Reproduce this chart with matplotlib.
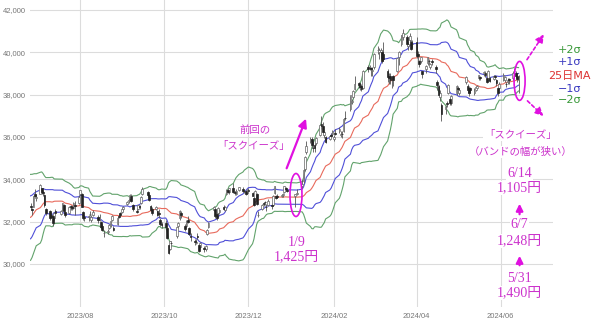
import numpy as np
import pandas as pd
import matplotlib
matplotlib.use('Agg')
import matplotlib.pyplot as plt
import matplotlib.dates as mdates
from matplotlib.patches import Ellipse

# Nikkei 225 daily prices (yen)
# closes before the chart window, only used to start the 25-day band
warmup_close = [31086, 30957, 30682, 30801, 30916, 31233, 31328, 30888,
                31148, 31524, 32217, 32506, 31913, 31641, 32265, 32434, 33018,
                33502, 33485, 33706, 33370, 33388, 33575, 33265, 32781]

opens = [
    32750, 32600, 32700, 33300, 33100,  # 2023/06
    33300, 33600, 33400, 33250, 32600, 32500, 32300, 32250, 32150, 32500,
    32350, 32550, 32800, 32450, 32400, 32750, 32700, 32650, 32800, 32900,  # 07
    33300, 33300, 32450, 32200, 32200, 32350, 32100, 32300, 32200, 32100, 32000,
    31800, 31450, 31500, 31700, 31800, 32100, 31700, 31900, 32250, 32400, 32450,  # 08
    32600, 32850, 33000, 33050, 33200, 32800, 32500, 32600, 32750, 32900,
    33300, 33400, 33250, 32750, 32600, 32600, 32500, 32400, 32100, 31900,  # 09
    31950, 31700, 30900, 30700, 31000, 31300, 31800, 32150, 32400, 31800, 31800,
    32100, 31700, 31300, 31100, 31000, 31300, 30900, 30800, 30750, 30700,  # 10
    31400, 31750, 32550, 32600, 32350, 32400, 32450, 32700, 32550, 33300,
    33500, 33400, 33600, 33400, 33300, 33500, 33550, 33400, 33450, 33350,  # 11
    33500, 33350, 33100, 33000, 33300, 32300, 32600, 32850, 32950, 32700, 32800,
    32800, 32800, 33350, 33200, 33200, 33200, 33250, 33400, 33600, 33500,  # 12
    33200, 33300, 33700, 33900, 34500, 35300, 35800, 35900, 35500, 35600,
    35700, 36100, 36600, 36500, 36100, 36000, 35900, 36100, 36150,  # 2024/01
    35900, 36200, 36300, 36100, 36150, 36300, 36900, 37300, 37650, 37900,
    38250, 38550, 38400, 38400, 38300, 39300, 39250, 39250, 39100,  # 02
    39300, 40100, 40000, 40000, 40000, 39900, 39100, 38900, 38900, 38800,
    38900, 39100, 39800, 40400, 40700, 40700, 40300, 40600, 40500, 40400,  # 03
    40500, 39900, 39600, 39600, 39100, 39200, 39500, 39600, 39300, 39600, 39300,
    38600, 38400, 37900, 37500, 37300, 37600, 38100, 37800, 37600, 38100,  # 04
    38300, 38100, 38600, 38400, 38300, 38300, 38100, 38200, 38300, 38800, 38850,
    39000, 39000, 38800, 38700, 38800, 38750, 38900, 38700, 38300, 38300,  # 05
    38700, 38700, 38500, 38600, 38750, 38800, 39100, 39000, 38900, 38700,  # 06
]
highs = [
    32900, 32650, 33200, 33527, 33300,
    33762, 33600, 33450, 33300, 32650, 32550, 32450, 32300, 32450, 32600,
    32550, 32900, 32850, 32500, 32750, 32800, 32750, 32950, 33000, 33250,
    33488, 33350, 32500, 32300, 32300, 32500, 32300, 32550, 32300, 32350, 32050,
    31900, 31600, 31650, 31900, 32050, 32300, 31800, 32200, 32350, 32450, 32700,
    32750, 33000, 33100, 33300, 33300, 32850, 32650, 32800, 32800, 33200,
    33634, 33450, 33300, 32800, 32700, 32750, 32550, 32600, 32150, 32000,
    32100, 31750, 30950, 31100, 31100, 31750, 32000, 32533, 32500, 31900, 32100,
    32250, 31750, 31450, 31200, 31200, 31450, 30950, 31050, 30850, 30900,
    31650, 32000, 32750, 32650, 32450, 32700, 32600, 32800, 32750, 33550,
    33600, 33600, 33850, 33450, 33550, 33650, 33650, 33500, 33500, 33550,
    33600, 33400, 33150, 33500, 33350, 32500, 32850, 32950, 33000, 32850, 33050,
    32900, 33250, 33700, 33250, 33300, 33300, 33350, 33700, 33650, 33550,
    33300, 33550, 33990, 34500, 35100, 35800, 36000, 36000, 35800, 35700,
    36000, 36600, 36985, 36700, 36300, 36050, 36100, 36200, 36350,
    36100, 36400, 36450, 36300, 36300, 36900, 37250, 37950, 37800, 38200,
    38865, 38600, 38500, 38500, 39150, 39400, 39400, 39300, 39300,
    39990, 40300, 40200, 40200, 40100, 40472, 39200, 39000, 39000, 38900,
    38950, 39750, 40050, 40823, 41087, 40800, 40500, 40900, 40600, 40600,
    40700, 40050, 39650, 39800, 39100, 39400, 39800, 39700, 39500, 39700, 39400,
    38700, 38450, 38200, 37600, 37500, 37700, 38500, 37900, 38000, 38450,
    38400, 38300, 38900, 38500, 38400, 38350, 38300, 38400, 38450, 38950, 38900,
    39100, 39100, 38850, 39150, 38850, 38950, 38950, 38750, 38350, 38600,
    39000, 38900, 38600, 38800, 38800, 39100, 39250, 39100, 39000, 38950,
]
lows = [
    32550, 32306, 32680, 33170, 33000,
    33290, 33300, 33200, 32700, 32300, 32100, 32150, 31800, 32100, 32300,
    32300, 32500, 32400, 32200, 32350, 32550, 32550, 32600, 32300, 32850,
    33200, 32700, 32100, 32050, 32050, 32250, 32000, 32250, 31950, 32050, 31700,
    31550, 31275, 31400, 31650, 31750, 32050, 31550, 31850, 32150, 32250, 32400,
    32500, 32800, 32900, 33000, 32950, 32500, 32400, 32550, 32600, 32850,
    33250, 33150, 33000, 32500, 32300, 32550, 32250, 32150, 31800, 31700,
    31700, 31200, 30487, 30650, 30800, 31250, 31700, 32100, 32150, 31550, 31750,
    31950, 31350, 31100, 30900, 30950, 31200, 30550, 30750, 30550, 30600,
    31350, 31700, 32500, 32150, 32100, 32350, 32350, 32550, 32500, 33250,
    33350, 33300, 33350, 33250, 33250, 33450, 33400, 33350, 33250, 33300,
    33350, 33200, 32750, 32950, 32800, 32200, 32550, 32750, 32800, 32500, 32750,
    32600, 32750, 33300, 33050, 33100, 33150, 33150, 33350, 33450, 33400,
    32700, 33250, 33600, 33850, 34400, 35200, 35700, 35500, 35300, 35300,
    35600, 36050, 36400, 36100, 35950, 35700, 35850, 35950, 36050,
    35800, 36100, 36200, 36000, 35950, 36250, 36800, 37250, 37550, 37850,
    38200, 38300, 38200, 38150, 38250, 39050, 39150, 38900, 38900,
    39200, 39900, 39700, 39700, 39500, 39600, 38600, 38500, 38500, 38300,
    38400, 39050, 39400, 40300, 40600, 40300, 40100, 40500, 40100, 40200,
    39750, 39600, 39300, 39500, 38800, 39000, 39400, 39400, 39200, 39400, 39000,
    38200, 37900, 37700, 36733, 37100, 37400, 38050, 37500, 37500, 38000,
    38100, 38000, 38500, 38100, 37950, 38100, 38000, 38150, 38250, 38700, 38700,
    38900, 38850, 38550, 38650, 38600, 38700, 38750, 38400, 37950, 38200,
    38650, 38600, 38350, 38500, 38500, 38700, 38950, 38800, 38600, 38100,
]
closes = [
    32698, 32538, 33193, 33234, 33189,
    33753, 33422, 33338, 32773, 32388, 32189, 32203, 31943, 32419, 32391,
    32493, 32896, 32490, 32304, 32700, 32682, 32668, 32891, 32759, 33172,
    33476, 32707, 32159, 32192, 32254, 32377, 32204, 32473, 32059, 32238, 31766,
    31626, 31450, 31565, 31856, 32010, 32287, 31624, 32169, 32227, 32333, 32619,
    32710, 32939, 33036, 33241, 32991, 32606, 32467, 32776, 32706, 33168,
    33533, 33242, 33023, 32571, 32402, 32678, 32315, 32371, 31872, 31857,
    31759, 31237, 30526, 31075, 30994, 31746, 31936, 32494, 32315, 31659, 32040,
    31998, 31430, 31259, 31019, 31062, 31269, 30601, 30991, 30696, 30858,
    31601, 31950, 32708, 32271, 32166, 32646, 32568, 32585, 32695, 33519,
    33424, 33585, 33388, 33354, 33451, 33625, 33447, 33408, 33321, 33486,
    33431, 33231, 32775, 33445, 32858, 32307, 32791, 32843, 32926, 32686, 32970,
    32758, 33219, 33675, 33141, 33169, 33255, 33305, 33681, 33540, 33464,
    33288, 33377, 33763, 34441, 35049, 35577, 35901, 35619, 35477, 35466,
    35963, 36546, 36517, 36226, 36236, 35751, 36026, 36065, 36286,
    36011, 36158, 36354, 36160, 36119, 36863, 36897, 37963, 37703, 38157,
    38487, 38470, 38363, 38262, 39098, 39233, 39239, 39208, 39166,
    39910, 40109, 40097, 40090, 39598, 39688, 38820, 38797, 38695, 38807,
    38707, 39740, 40003, 40815, 40888, 40414, 40398, 40762, 40168, 40369,
    39803, 39838, 39451, 39773, 38992, 39347, 39773, 39581, 39442, 39523, 39232,
    38471, 37961, 38079, 37068, 37438, 37552, 38460, 37628, 37934, 38405,
    38274, 38236, 38835, 38202, 38073, 38229, 38179, 38356, 38385, 38920, 38787,
    39069, 38946, 38617, 39103, 38646, 38900, 38855, 38556, 38054, 38487,
    38923, 38837, 38490, 38703, 38683, 39038, 39134, 38876, 38720, 38814,
]

# TSE holidays in the period
holidays = ['2023-07-17', '2023-08-11', '2023-09-18', '2023-10-09', '2023-11-03',
            '2023-11-23', '2024-01-01', '2024-01-02', '2024-01-03', '2024-01-08',
            '2024-02-12', '2024-02-23', '2024-03-20', '2024-04-29', '2024-05-03',
            '2024-05-06']
dates = pd.bdate_range('2023-05-22', '2024-06-14', freq='C', holidays=holidays)

all_close = pd.Series(warmup_close + closes, index=dates)
assert len(opens) == len(highs) == len(lows) == len(closes) == len(dates) - len(warmup_close)

ma = all_close.rolling(25).mean()
sd = all_close.rolling(25).std(ddof=0)

xt = mdates.date2num(dates)
n0 = len(warmup_close)
xc = xt[n0:]
o = np.array(opens, float)
h = np.array(highs, float)
l = np.array(lows, float)
c = np.array(closes, float)

fig = plt.figure(figsize=(6, 3.24), dpi=100)
ax = fig.add_axes([30 / 600, 1 - 307 / 324, 523 / 600, 307 / 324])

# bands
valid = slice(24, None)
ax.plot(xt[valid], (ma + 2 * sd).values[valid], color='#62a36c', lw=0.8, zorder=2)
ax.plot(xt[valid], (ma - 2 * sd).values[valid], color='#62a36c', lw=0.8, zorder=2)
ax.plot(xt[valid], (ma + sd).values[valid], color='#5050d8', lw=0.8, zorder=2)
ax.plot(xt[valid], (ma - sd).values[valid], color='#5050d8', lw=0.8, zorder=2)
ax.plot(xt[valid], ma.values[valid], color='#e86a5c', lw=0.8, zorder=2)

# candles
up = c >= o
lo = np.minimum(o, c)
bh = np.maximum(np.abs(c - o), 20)
ax.vlines(xc, l, h, color='#555555', lw=0.6, zorder=3)
ax.bar(xc[up], bh[up], bottom=lo[up], width=1.25, color='white',
       edgecolor='#666666', lw=0.5, zorder=4)
ax.bar(xc[~up], bh[~up], bottom=lo[~up], width=1.25, color='#222222',
       edgecolor='#222222', lw=0.5, zorder=4)

ax.set_xlim(mdates.datestr2num('2023-06-25 12:00'), mdates.datestr2num('2024-07-09'))
ax.set_ylim(27970, 42470)
ax.set_yticks(range(30000, 42001, 2000))
ax.yaxis.set_major_formatter(plt.FuncFormatter(lambda v, p: f'{int(v):,}'))
ax.xaxis.set_major_locator(mdates.MonthLocator(bymonth=[2, 4, 6, 8, 10, 12]))
ax.xaxis.set_major_formatter(mdates.DateFormatter('%Y/%m'))
ax.tick_params(length=0, labelsize=5.5, labelcolor='#777777')
ax.tick_params(axis='y', pad=3)
ax.tick_params(axis='x', pad=4)
for lab in ax.get_xticklabels() + ax.get_yticklabels():
    lab.set_family('Liberation Sans')
ax.grid(True, color='#dcdcdc', lw=0.8)
ax.set_axisbelow(True)
for s in ax.spines.values():
    s.set_visible(False)

d = mdates.datestr2num
mag = '#e010e0'
tcol = '#cc33cc'
jp = ['Noto Sans CJK JP', 'DejaVu Sans']
num = ['Liberation Serif', 'Noto Sans CJK JP']

# previous squeeze
ax.add_patch(Ellipse((d('2024-01-04 12:00'), 33260), 8.7, 2030, fill=False,
                     ec=mag, lw=1.2, zorder=6))
ax.annotate('', xy=(d('2024-01-12 12:00'), 36990), xytext=(d('2023-12-28'), 34400),
            arrowprops=dict(arrowstyle='-|>,head_width=0.25,head_length=0.5',
                            color=mag, lw=1.6), zorder=6)
ax.text(d('2023-12-06'), 36330, '前回の', color=tcol, fontsize=7.5, family=jp,
        ha='center', va='center')
ax.text(d('2023-12-05'), 35576, '「スクイーズ」', color=tcol, fontsize=7.5, family=jp,
        ha='center', va='center')
ax.text(d('2024-01-05'), 31040, '1/9', color=tcol, fontsize=10, family=num,
        ha='center', va='center')
ax.text(d('2024-01-05'), 30333, '1,425円', color=tcol, fontsize=10, family=num,
        ha='center', va='center')

# current squeeze
ax.add_patch(Ellipse((d('2024-06-14 18:00'), 38650), 8, 1840, fill=False,
                     ec=mag, lw=1.2, zorder=6))
dash = dict(arrowstyle='-|>,head_width=0.25,head_length=0.5', color=mag, lw=1.2,
            linestyle=(0, (2, 1.5)))
ax.annotate('', xy=(d('2024-07-03 12:00'), 40960), xytext=(d('2024-06-19'), 39544),
            arrowprops=dash, annotation_clip=False, zorder=6)
ax.annotate('', xy=(d('2024-07-03 12:00'), 36900), xytext=(d('2024-06-19'), 37796),
            arrowprops=dash, annotation_clip=False, zorder=6)

box = dict(fc='white', ec='none', pad=0.6)
ax.text(d('2024-06-15 12:00'), 36095, '「スクイーズ」', color=tcol, fontsize=7.5,
        family=jp, ha='center', va='center', bbox=box, zorder=7)
ax.text(d('2024-06-15 12:00'), 35292, '（バンドの幅が狭い）', color=tcol, fontsize=7.5,
        family=jp, ha='center', va='center', bbox=box, zorder=7)

xw = d('2024-06-14 18:00')
for txt, yv in [('6/14', 34253), ('1,105円', 33592), ('6/7', 31844),
                ('1,248円', 31088), ('5/31', 29293), ('1,490円', 28632)]:
    ax.text(xw, yv, txt, color=tcol, fontsize=10, family=num, ha='center',
            va='center', bbox=box, zorder=7, clip_on=False)
small = dict(arrowstyle='-|>,head_width=0.2,head_length=0.4', color=mag, lw=1.6)
ax.annotate('', xy=(xw, 32980), xytext=(xw, 32220), arrowprops=small, zorder=8)
ax.annotate('', xy=(xw, 30520), xytext=(xw, 29810), arrowprops=small, zorder=8)

# band legend
xl = d('2024-07-21')
for txt, yv, col in [('+2σ', 40110, '#3a993a'), ('+1σ', 39544, '#3a3ac0'),
                     ('25日MA', 38882, '#dd3333'), ('−1σ', 38268, '#3a3ac0'),
                     ('−2σ', 37749, '#3a993a')]:
    ax.text(xl, yv, txt, color=col, fontsize=8, family=['DejaVu Sans', 'Noto Sans CJK JP'],
            ha='center', va='center', clip_on=False)

fig.savefig('out.png', dpi=100)
